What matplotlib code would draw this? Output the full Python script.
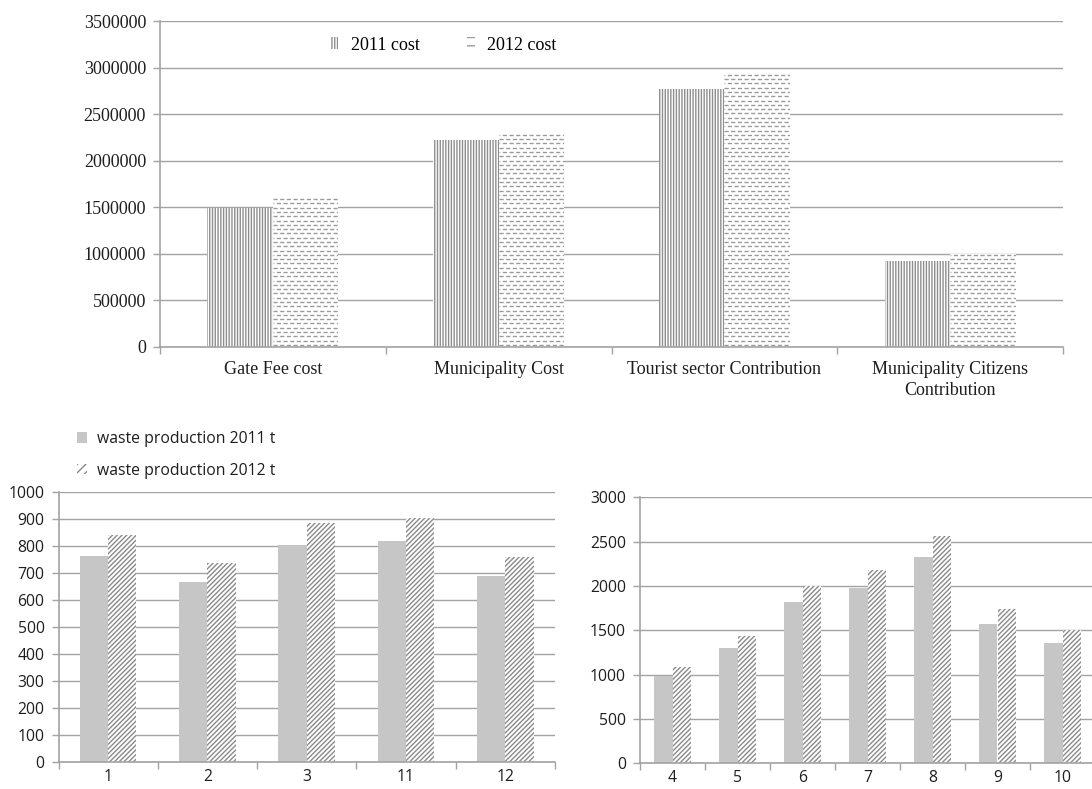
import numpy as np
import matplotlib
matplotlib.use('Agg')
import matplotlib.pyplot as plt
from matplotlib.patches import Patch
from matplotlib.ticker import FuncFormatter

# 成本数据（元）
cost_labels = ['Gate Fee cost', 'Municipality Cost', 'Tourist sector Contribution',
               'Municipality Citizens\nContribution']
cost_2011 = [1490000, 2220000, 2770000, 925000]
cost_2012 = [1610000, 2310000, 2960000, 1000000]

# 各月垃圾产量（吨）
months_low = ['1', '2', '3', '11', '12']
waste_2011_low = [765, 669, 804, 821, 690]
waste_2012_low = [841, 738, 885, 903, 760]

months_high = ['4', '5', '6', '7', '8', '9', '10']
waste_2011_high = [983, 1303, 1815, 1977, 2326, 1574, 1360]
waste_2012_high = [1081, 1431, 2000, 2177, 2563, 1736, 1507]

GRID = '#a3a3a3'
TXT = '#1e1e1e'
plt.rcParams['hatch.linewidth'] = 1.0

fig = plt.figure(figsize=(10.92, 7.89), dpi=100)


def style_axes(ax, n, ymax, ystep, font, size, xpad):
    ax.set_xlim(-0.5, n - 0.5)
    ax.set_ylim(0, ymax)
    ax.set_yticks(np.arange(0, ymax + 1, ystep))
    ax.yaxis.set_major_formatter(FuncFormatter(lambda v, p: '%d' % v))
    ax.set_xticks(np.arange(n))
    ax.set_xticks(np.arange(n + 1) - 0.5, minor=True)
    ax.yaxis.grid(True, color=GRID, lw=1.0)
    ax.set_axisbelow(True)
    for s in ['top', 'right']:
        ax.spines[s].set_visible(False)
    for s in ['left', 'bottom']:
        ax.spines[s].set_color(GRID)
        ax.spines[s].set_linewidth(1.2)
    ax.tick_params(axis='x', which='major', length=0, pad=xpad)
    ax.tick_params(axis='x', which='minor', length=5, color=GRID, width=1.0)
    ax.tick_params(axis='y', length=5, color=GRID, width=1.0, pad=5)
    ax.tick_params(axis='both', which='major', labelsize=size,
                   labelcolor=TXT, labelfontfamily=font)


# 上图：成本对比
ax1 = fig.add_axes([160 / 1092, 1 - 347 / 789, 903 / 1092, 326 / 789])
x = np.arange(len(cost_labels))
w = 0.29
ax1.bar(x - w, cost_2011, w, align='edge', facecolor='white',
        edgecolor='#8e8e8e', linewidth=0, hatch='||||||')
bars12 = ax1.bar(x, cost_2012, w, align='edge', facecolor='white', linewidth=0)
# 2012 用短横线纹理
step = 46000
for b in bars12:
    x0, bw, h = b.get_x(), b.get_width(), b.get_height()
    ys = np.arange(step / 2, h, step)
    for k, off in enumerate([0, 2.4]):
        lc = ax1.hlines(ys[k::2], x0, x0 + bw, colors='#9a9a9a', lw=1.0,
                        linestyles=[(off, (3.0, 1.8))])
        lc.set_clip_path(b)
style_axes(ax1, len(cost_labels), 3500000, 500000, 'Liberation Serif', 13, 10)
ax1.set_xticklabels(cost_labels, linespacing=1.3)

h1 = [Patch(facecolor='white', edgecolor='#8e8e8e', lw=0, hatch='||||||'),
      Patch(facecolor='white', edgecolor='#9a9a9a', lw=0, hatch='--')]
fig.legend(h1, ['2011 cost', '2012 cost'], loc='center left',
           bbox_to_anchor=(330 / 1092, 1 - 45 / 789), ncol=2, frameon=False,
           prop={'family': 'Liberation Serif', 'size': 13},
           handlelength=0.45, handleheight=0.6, handletextpad=0.7,
           columnspacing=2.6, borderpad=0, borderaxespad=0)

# 下图：各月垃圾产量
GRAY = '#c6c6c6'
HATCH_C = '#8a8a8a'
bw = 0.285
FS = 11.3

ax2 = fig.add_axes([58.5 / 1092, 1 - 762.3 / 789, 496.5 / 1092, 270 / 789])
x2 = np.arange(len(months_low))
ax2.bar(x2 - bw, waste_2011_low, bw, align='edge', color=GRAY, lw=0)
ax2.bar(x2, waste_2012_low, bw, align='edge', facecolor='white',
        edgecolor=HATCH_C, lw=0, hatch='///////')
style_axes(ax2, len(months_low), 1000, 100, 'Open Sans', FS, 5)
ax2.set_xticklabels(months_low)

ax3 = fig.add_axes([640 / 1092, 1 - 763.3 / 789, 7 * 65 / 1092, 266 / 789])
x3 = np.arange(len(months_high))
ax3.bar(x3 - bw, waste_2011_high, bw, align='edge', color=GRAY, lw=0)
ax3.bar(x3, waste_2012_high, bw, align='edge', facecolor='white',
        edgecolor=HATCH_C, lw=0, hatch='///////')
style_axes(ax3, len(months_high), 3000, 500, 'Open Sans', FS, 5)
ax3.set_xticklabels(months_high)

h2 = [Patch(facecolor=GRAY, lw=0),
      Patch(facecolor='white', edgecolor=HATCH_C, lw=0, hatch='////')]
leg2 = fig.legend(h2, ['waste production 2011 t', 'waste production 2012 t'],
                  loc='upper left', bbox_to_anchor=(77 / 1092, 1 - 431 / 789),
                  frameon=False, prop={'family': 'Open Sans', 'size': FS},
                  handlelength=0.65, handleheight=0.65, handletextpad=0.6,
                  labelspacing=1.0, borderpad=0, borderaxespad=0)
for t in leg2.get_texts():
    t.set_color(TXT)

fig.savefig('out.png', dpi=100)
